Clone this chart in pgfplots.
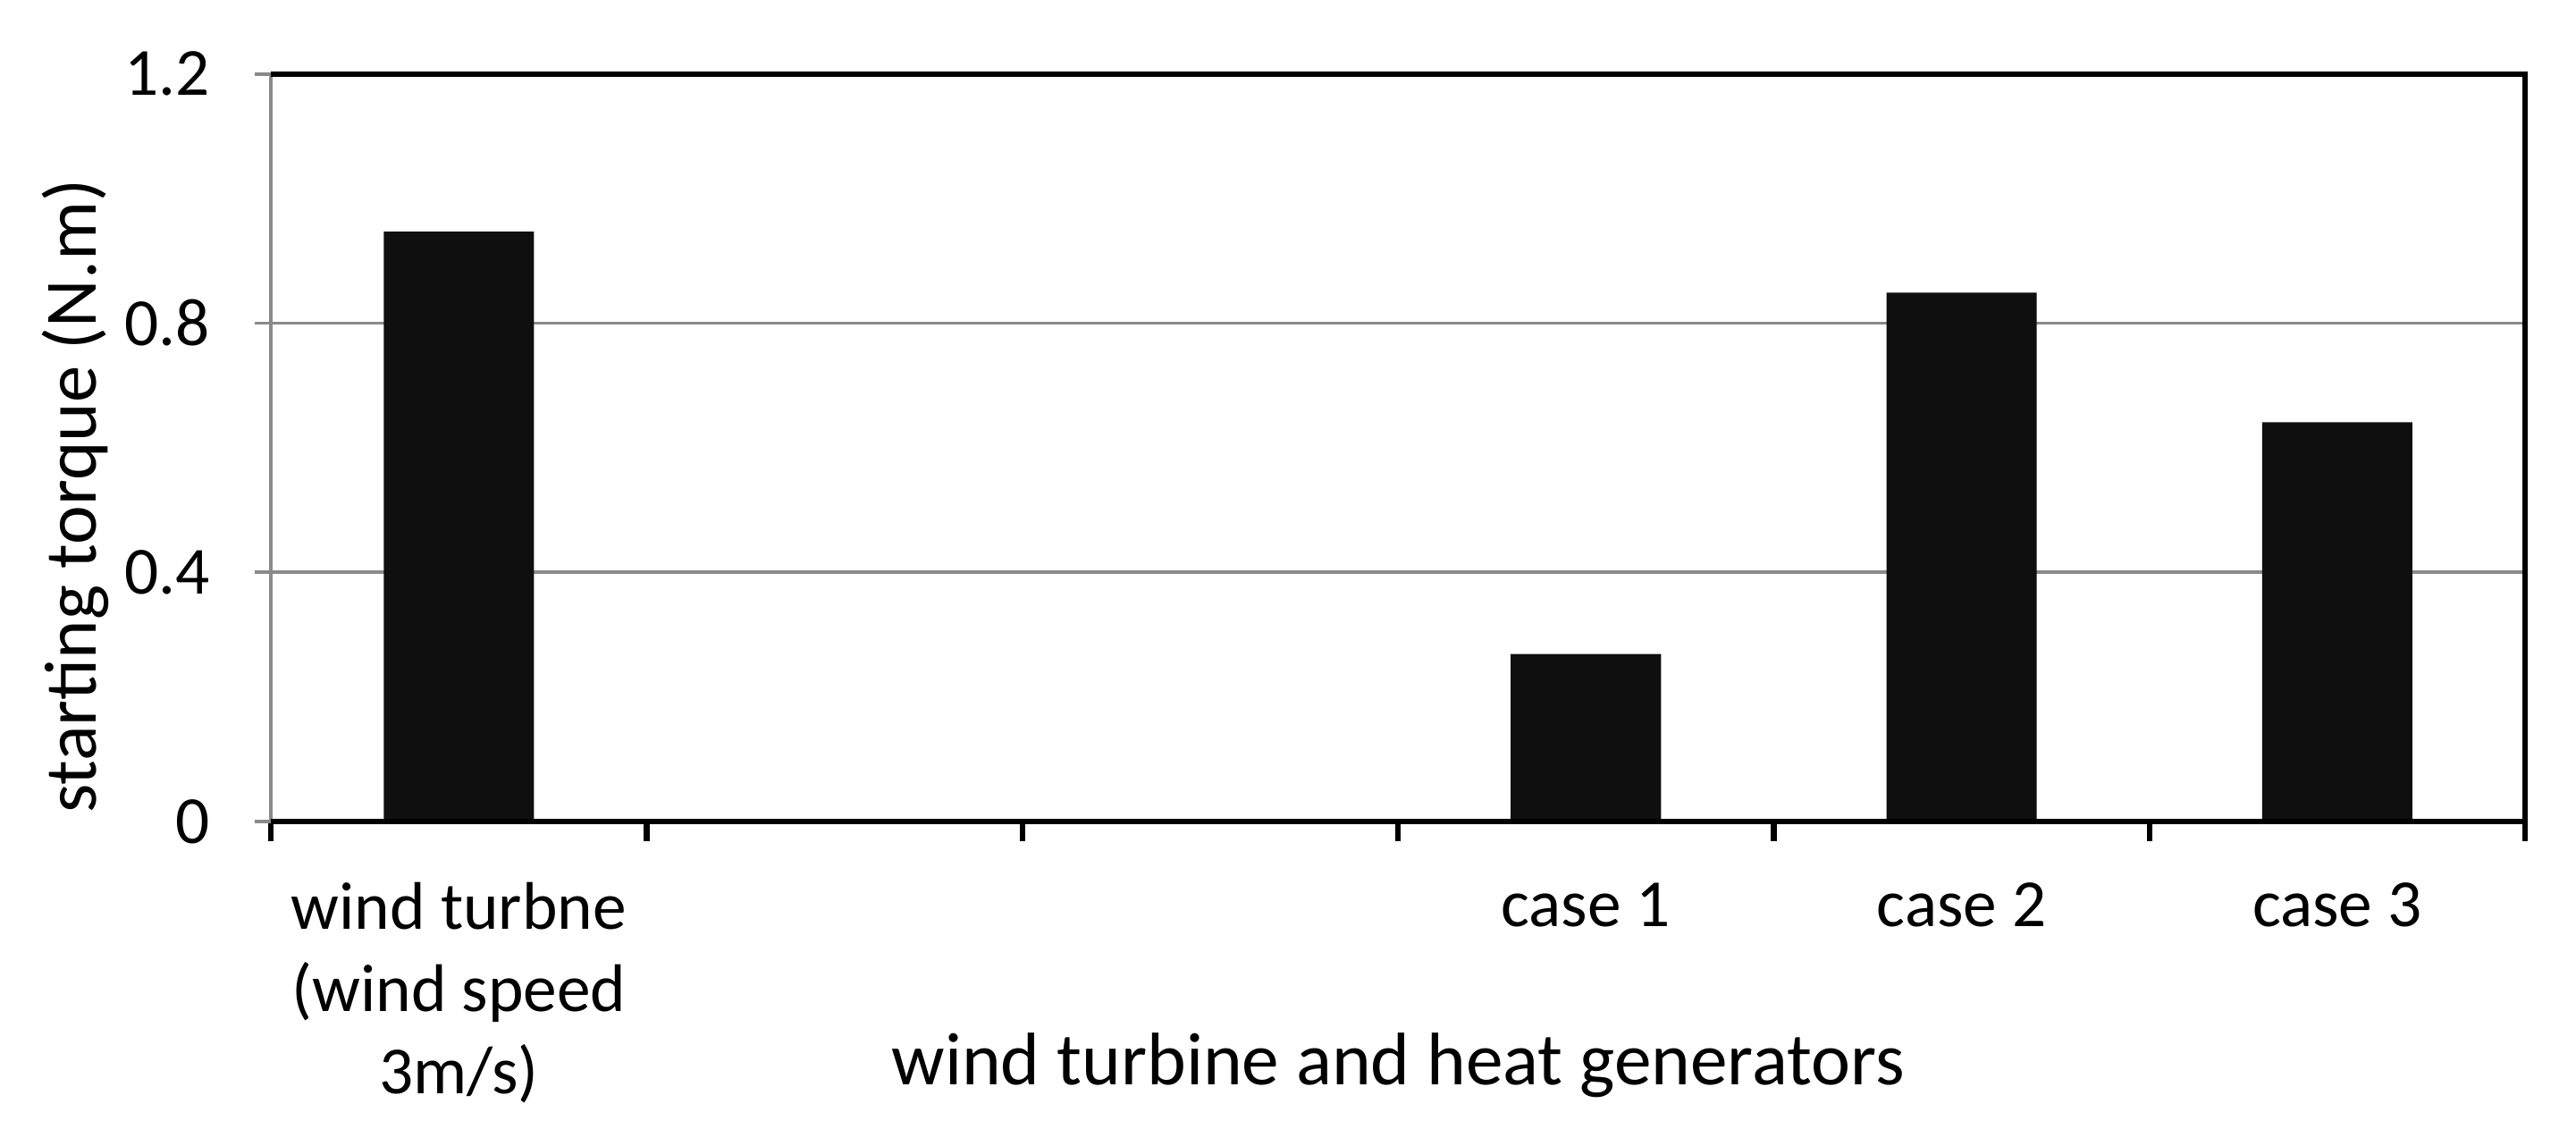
\documentclass[border=0pt]{standalone}
\usepackage{pgfplots}
\pgfplotsset{compat=1.18}
\usepackage{fontspec}
\setmainfont{Carlito}
\definecolor{barc}{HTML}{0F0F0F}
\definecolor{gridc}{HTML}{8A8A8A}
\begin{document}
\fontsize{12}{15}\selectfont
\begin{tikzpicture}
\begin{axis}[
  scale only axis,
  width=411.6pt, height=136.5pt,
  xmin=-0.5, xmax=5.5, ymin=0, ymax=1.2,
  ybar, bar width=0.4,
  axis line style={draw=none},
  xtick={0,1,2,3,4,5},
  xticklabels={{wind turbne\\(wind speed\\3m/s)},{},{},case 1,case 2,case 3},
  xticklabel style={align=center, font=\fontsize{12.3}{15}\selectfont, yshift=-4pt},
  major x tick style={draw=none},
  minor xtick={-0.5,0.5,1.5,2.5,3.5,4.5,5.5},
  minor x tick style={black, line width=1pt},
  minor tick length=3.6pt,
  ytick={0,0.4,0.8,1.2},
  yticklabels={0,0.4,0.8,1.2},
  yticklabel style={font=\fontsize{12.3}{15}\selectfont, xshift=-4pt},
  major y tick style={gridc, line width=0.6pt},
  major tick length=3pt,
  tick align=outside,
  xtick pos=left, ytick pos=left,
  ymajorgrids, grid style={gridc, line width=0.6pt},
  /pgf/number format/assume math mode=true,
  clip=false,
  ylabel={starting torque (N.m)},
  ylabel style={font=\fontsize{13.5}{15}\selectfont, at={(axis description cs:-0.087,0.435)}, anchor=center},
]
\addplot[fill=barc, draw=none] coordinates {(0,0.947) (1,0) (2,0) (3,0.269) (4,0.849) (5,0.641)};
\draw[gridc, line width=0.6pt] (rel axis cs:0,0) -- (rel axis cs:0,1);
\draw[black, line width=1pt] (rel axis cs:0,1) -- (rel axis cs:1,1) -- (rel axis cs:1,0) -- (rel axis cs:0,0);
\node[font=\fontsize{13.6}{15}\selectfont, anchor=base] at ([yshift=-48pt]rel axis cs:0.5,0) {wind turbine and heat generators};
\end{axis}
\path (current axis.south west) ++(-49.5pt,-59.1pt) (current axis.north east) ++(9.3pt,13.5pt);
\end{tikzpicture}
\end{document}
